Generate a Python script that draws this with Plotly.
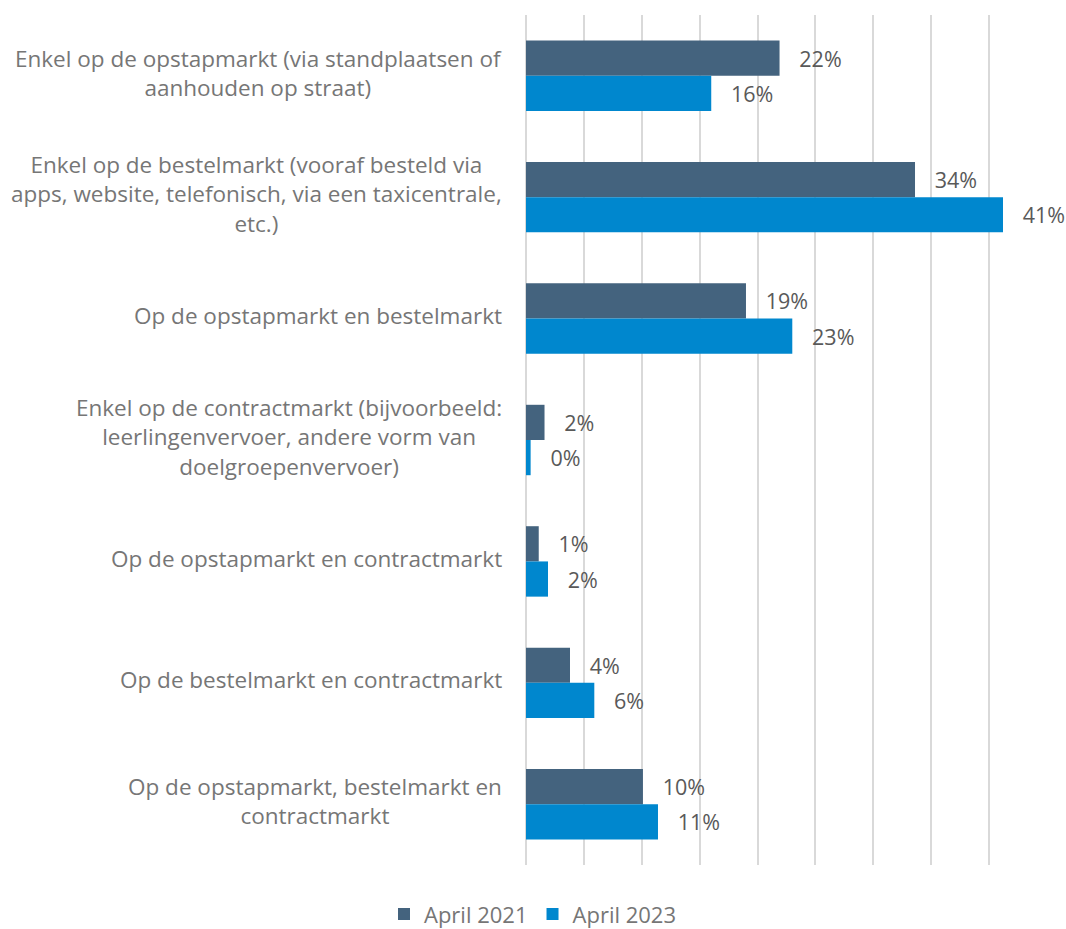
import plotly.graph_objects as go

# Market segments in which taxi companies operate
categories = [
    "Enkel op de opstapmarkt (via standplaatsen of<br>aanhouden op straat)",
    "Enkel op de bestelmarkt (vooraf besteld via<br>apps, website, telefonisch, via een taxicentrale,<br>etc.)",
    "Op de opstapmarkt en bestelmarkt",
    "Enkel op de contractmarkt (bijvoorbeeld:<br>leerlingenvervoer, andere vorm van<br>doelgroepenvervoer)",
    "Op de opstapmarkt en contractmarkt",
    "Op de bestelmarkt en contractmarkt",
    "Op de opstapmarkt, bestelmarkt en<br>contractmarkt",
]

# Share of respondents (%)
april_2021 = [21.9, 33.6, 19.0, 1.6, 1.1, 3.8, 10.1]
april_2023 = [16.0, 41.2, 23.0, 0.4, 1.9, 5.9, 11.4]

series_names = ["April 2021", "April 2023"]
series_colors = ["#44637E", "#0087CE"]

FONT = "Open Sans"
LABEL_SIZE = 22.5

fig = go.Figure()
for name, vals, color in zip(series_names, [april_2021, april_2023], series_colors):
    fig.add_trace(go.Bar(
        y=categories,
        x=vals,
        name=name,
        orientation="h",
        marker=dict(color=color, line=dict(width=0)),
        texttemplate="\u00a0\u00a0\u00a0%{x:.0f}%",
        textposition="outside",
        constraintext="none",
        cliponaxis=False,
        textfont=dict(family=FONT, size=21.5, color="#595959"),
        hoverinfo="skip",
    ))

# Category labels: centred multi-line blocks, right edge against the axis
annotations = [
    dict(
        text=cat,
        x=0, xref="paper", xanchor="right", xshift=-22,
        y=cat, yref="y", yanchor="middle", yshift=3,
        align="center",
        showarrow=False,
        font=dict(family=FONT, size=LABEL_SIZE, color="#767676"),
    )
    for cat in categories
]

fig.update_layout(
    width=1066,
    height=929,
    margin=dict(l=526, r=19, t=15, b=64),
    paper_bgcolor="white",
    plot_bgcolor="white",
    barmode="group",
    bargap=0.42,
    bargroupgap=0,
    font=dict(family=FONT, color="#767676"),
    xaxis=dict(
        range=[0, 45],
        dtick=5,
        showgrid=True,
        gridcolor="#D9D9D9",
        gridwidth=2,
        zeroline=True,
        zerolinecolor="#D9D9D9",
        zerolinewidth=2,
        showticklabels=False,
        ticks="",
        showline=False,
        fixedrange=True,
    ),
    yaxis=dict(
        categoryorder="array",
        categoryarray=categories,
        range=[6.5, -0.5],
        showticklabels=False,
        showgrid=False,
        zeroline=False,
        ticks="",
        fixedrange=True,
    ),
    legend=dict(
        orientation="h",
        xref="container", x=0.5, xanchor="center",
        yref="container", y=0.016, yanchor="middle",
        font=dict(family=FONT, size=22, color="#767676"),
        traceorder="normal",
        itemclick=False,
        itemdoubleclick=False,
    ),
    annotations=annotations,
    showlegend=True,
)

fig.write_html("out.html")
